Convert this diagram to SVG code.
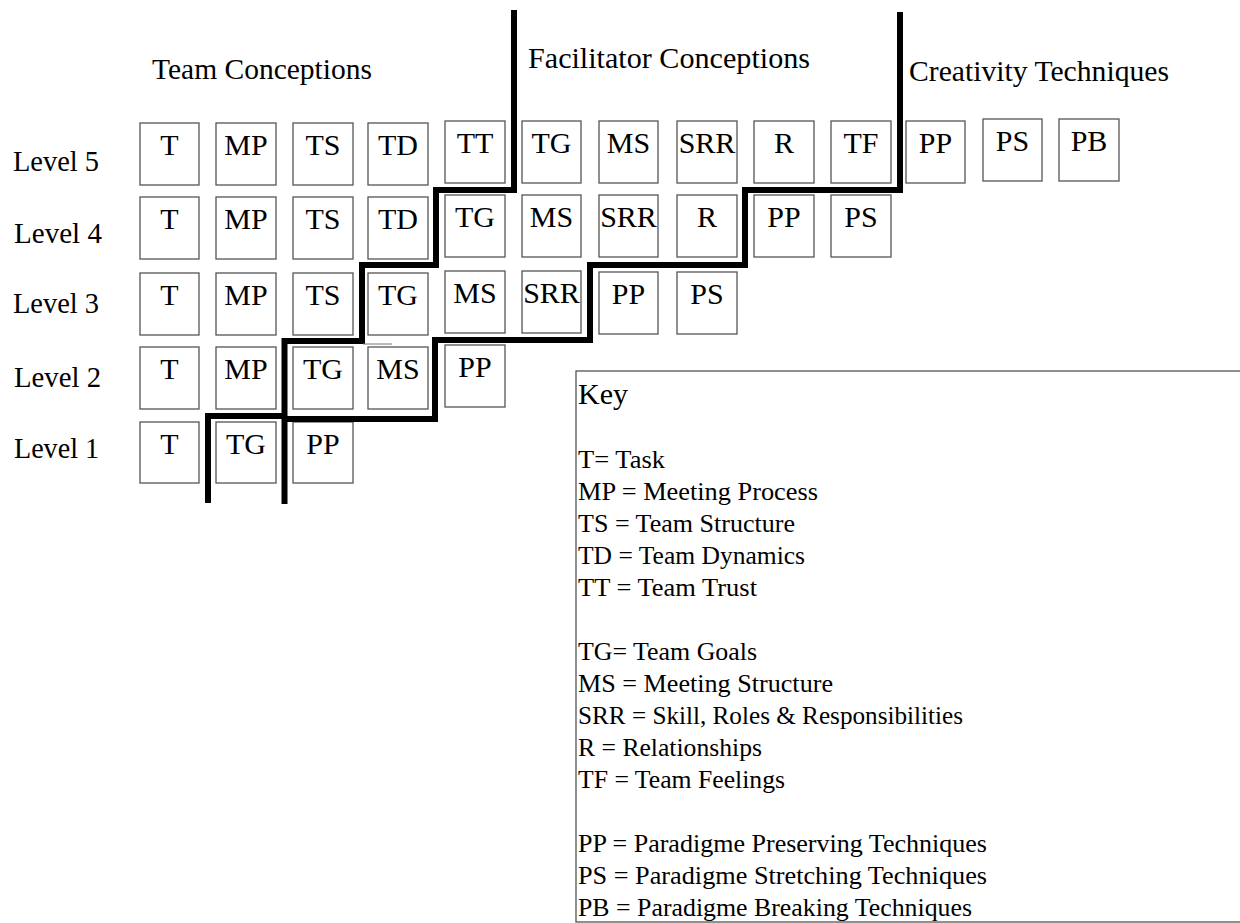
<svg xmlns="http://www.w3.org/2000/svg" width="1240" height="923" viewBox="0 0 1240 923">
<style>
.bx{fill:#fff;stroke:#555;stroke-width:1.3}
.bt{font-family:"Liberation Serif","Times New Roman",serif;font-size:30px;fill:#000;text-anchor:middle}
.hd{font-family:"Liberation Serif","Times New Roman",serif;font-size:29px;fill:#000}
.lv{font-family:"Liberation Serif","Times New Roman",serif;font-size:29px;fill:#000}
.kt{font-family:"Liberation Serif","Times New Roman",serif;font-size:25.5px;fill:#000}
.th{fill:none;stroke:#000;stroke-width:6;stroke-linejoin:miter}
</style>
<rect width="1240" height="923" fill="#fff"/>
<g id="headings">
<text class="hd" x="152" y="79" textLength="220" lengthAdjust="spacingAndGlyphs">Team Conceptions</text>
<text class="hd" x="528" y="68" textLength="282" lengthAdjust="spacingAndGlyphs">Facilitator Conceptions</text>
<text class="hd" x="909" y="81" textLength="260" lengthAdjust="spacingAndGlyphs">Creativity Techniques</text>
</g>
<g id="levels">
<text class="lv" x="13" y="171" textLength="86" lengthAdjust="spacingAndGlyphs">Level 5</text>
<text class="lv" x="14" y="243" textLength="88" lengthAdjust="spacingAndGlyphs">Level 4</text>
<text class="lv" x="13" y="313" textLength="86" lengthAdjust="spacingAndGlyphs">Level 3</text>
<text class="lv" x="14" y="387" textLength="87" lengthAdjust="spacingAndGlyphs">Level 2</text>
<text class="lv" x="14" y="458" textLength="85" lengthAdjust="spacingAndGlyphs">Level 1</text>
</g>
<g id="level5">
<g id="l5-T"><rect class="bx" x="140" y="123" width="59" height="62"/><text class="bt" x="169.5" y="155">T</text></g>
<g id="l5-MP"><rect class="bx" x="216" y="123" width="60" height="62"/><text class="bt" x="246" y="155">MP</text></g>
<g id="l5-TS"><rect class="bx" x="293" y="123" width="60" height="62"/><text class="bt" x="323" y="155">TS</text></g>
<g id="l5-TD"><rect class="bx" x="368" y="123" width="60" height="62"/><text class="bt" x="398" y="155">TD</text></g>
<g id="l5-TT"><rect class="bx" x="445" y="121" width="60" height="62"/><text class="bt" x="475" y="153">TT</text></g>
<g id="l5-TG"><rect class="bx" x="522" y="121" width="59" height="62"/><text class="bt" x="551.5" y="153">TG</text></g>
<g id="l5-MS"><rect class="bx" x="599" y="121" width="59" height="62"/><text class="bt" x="628.5" y="153">MS</text></g>
<g id="l5-SRR"><rect class="bx" x="677" y="121" width="60" height="62"/><text class="bt" x="707" y="153">SRR</text></g>
<g id="l5-R"><rect class="bx" x="754" y="121" width="60" height="62"/><text class="bt" x="784" y="153">R</text></g>
<g id="l5-TF"><rect class="bx" x="831" y="121" width="60" height="62"/><text class="bt" x="861" y="153">TF</text></g>
<g id="l5-PP"><rect class="bx" x="906" y="121" width="59" height="62"/><text class="bt" x="935.5" y="153">PP</text></g>
<g id="l5-PS"><rect class="bx" x="983" y="119" width="59" height="62"/><text class="bt" x="1012.5" y="151">PS</text></g>
<g id="l5-PB"><rect class="bx" x="1059" y="119" width="60" height="62"/><text class="bt" x="1089" y="151">PB</text></g>
</g>
<g id="level4">
<g id="l4-T"><rect class="bx" x="140" y="197" width="59" height="62"/><text class="bt" x="169.5" y="229">T</text></g>
<g id="l4-MP"><rect class="bx" x="216" y="197" width="60" height="62"/><text class="bt" x="246" y="229">MP</text></g>
<g id="l4-TS"><rect class="bx" x="293" y="197" width="60" height="62"/><text class="bt" x="323" y="229">TS</text></g>
<g id="l4-TD"><rect class="bx" x="368" y="197" width="60" height="62"/><text class="bt" x="398" y="229">TD</text></g>
<g id="l4-TG"><rect class="bx" x="445" y="195" width="60" height="62"/><text class="bt" x="475" y="227">TG</text></g>
<g id="l4-MS"><rect class="bx" x="522" y="195" width="59" height="62"/><text class="bt" x="551.5" y="227">MS</text></g>
<g id="l4-SRR"><rect class="bx" x="599" y="195" width="59" height="62"/><text class="bt" x="628.5" y="227">SRR</text></g>
<g id="l4-R"><rect class="bx" x="677" y="195" width="60" height="62"/><text class="bt" x="707" y="227">R</text></g>
<g id="l4-PP"><rect class="bx" x="754" y="195" width="60" height="62"/><text class="bt" x="784" y="227">PP</text></g>
<g id="l4-PS"><rect class="bx" x="831" y="195" width="60" height="62"/><text class="bt" x="861" y="227">PS</text></g>
</g>
<g id="level3">
<g id="l3-T"><rect class="bx" x="140" y="273" width="59" height="62"/><text class="bt" x="169.5" y="305">T</text></g>
<g id="l3-MP"><rect class="bx" x="216" y="273" width="60" height="62"/><text class="bt" x="246" y="305">MP</text></g>
<g id="l3-TS"><rect class="bx" x="293" y="273" width="60" height="62"/><text class="bt" x="323" y="305">TS</text></g>
<g id="l3-TG"><rect class="bx" x="368" y="273" width="60" height="62"/><text class="bt" x="398" y="305">TG</text></g>
<g id="l3-MS"><rect class="bx" x="445" y="271" width="60" height="62"/><text class="bt" x="475" y="303">MS</text></g>
<g id="l3-SRR"><rect class="bx" x="522" y="271" width="59" height="62"/><text class="bt" x="551.5" y="303">SRR</text></g>
<g id="l3-PP"><rect class="bx" x="599" y="272" width="59" height="62"/><text class="bt" x="628.5" y="304">PP</text></g>
<g id="l3-PS"><rect class="bx" x="677" y="272" width="60" height="62"/><text class="bt" x="707" y="304">PS</text></g>
</g>
<g id="level2">
<g id="l2-T"><rect class="bx" x="140" y="347" width="59" height="62"/><text class="bt" x="169.5" y="379">T</text></g>
<g id="l2-MP"><rect class="bx" x="216" y="347" width="60" height="62"/><text class="bt" x="246" y="379">MP</text></g>
<g id="l2-TG"><rect class="bx" x="293" y="347" width="60" height="62"/><text class="bt" x="323" y="379">TG</text></g>
<g id="l2-MS"><rect class="bx" x="368" y="347" width="60" height="62"/><text class="bt" x="398" y="379">MS</text></g>
<g id="l2-PP"><rect class="bx" x="445" y="345" width="60" height="62"/><text class="bt" x="475" y="377">PP</text></g>
</g>
<g id="level1">
<g id="l1-T"><rect class="bx" x="140" y="422" width="59" height="61"/><text class="bt" x="169.5" y="454">T</text></g>
<g id="l1-TG"><rect class="bx" x="216" y="422" width="60" height="61"/><text class="bt" x="246" y="454">TG</text></g>
<g id="l1-PP"><rect class="bx" x="293" y="422" width="60" height="61"/><text class="bt" x="323" y="454">PP</text></g>
</g>
<g id="connectors">
<polyline class="th" points="514,10 514,190 436,190 436,265 362,265 362,341 284.5,341 284.5,504"/>
<polyline class="th" points="900,12 900,190 745,190 745,265 590,265 590,340 435,340 435,419 284,419"/>
<polyline class="th" points="286,416 208,416 208,503"/>
<line x1="363" y1="344" x2="392" y2="344" stroke="#777" stroke-width="1"/>
</g>
<g id="key">
<rect x="576" y="371" width="680" height="551" fill="none" stroke="#555" stroke-width="1.3"/>
<text class="kt" x="578" y="404" style="font-size:30px">Key</text>
<text class="kt" x="578" y="468" textLength="87" lengthAdjust="spacingAndGlyphs">T= Task</text>
<text class="kt" x="578" y="500" textLength="240" lengthAdjust="spacingAndGlyphs">MP = Meeting Process</text>
<text class="kt" x="578" y="532" textLength="217" lengthAdjust="spacingAndGlyphs">TS = Team Structure</text>
<text class="kt" x="578" y="564" textLength="227" lengthAdjust="spacingAndGlyphs">TD = Team Dynamics</text>
<text class="kt" x="578" y="596" textLength="179" lengthAdjust="spacingAndGlyphs">TT = Team Trust</text>
<text class="kt" x="578" y="660" textLength="179" lengthAdjust="spacingAndGlyphs">TG= Team Goals</text>
<text class="kt" x="578" y="692" textLength="255" lengthAdjust="spacingAndGlyphs">MS = Meeting Structure</text>
<text class="kt" x="578" y="724" textLength="385" lengthAdjust="spacingAndGlyphs">SRR = Skill, Roles &amp; Responsibilities</text>
<text class="kt" x="578" y="756" textLength="184" lengthAdjust="spacingAndGlyphs">R = Relationships</text>
<text class="kt" x="578" y="788" textLength="207" lengthAdjust="spacingAndGlyphs">TF = Team Feelings</text>
<text class="kt" x="578" y="852" textLength="409" lengthAdjust="spacingAndGlyphs">PP = Paradigme Preserving Techniques</text>
<text class="kt" x="578" y="884" textLength="409" lengthAdjust="spacingAndGlyphs">PS = Paradigme Stretching Techniques</text>
<text class="kt" x="578" y="916" textLength="394" lengthAdjust="spacingAndGlyphs">PB = Paradigme Breaking Techniques</text>
</g>
</svg>
